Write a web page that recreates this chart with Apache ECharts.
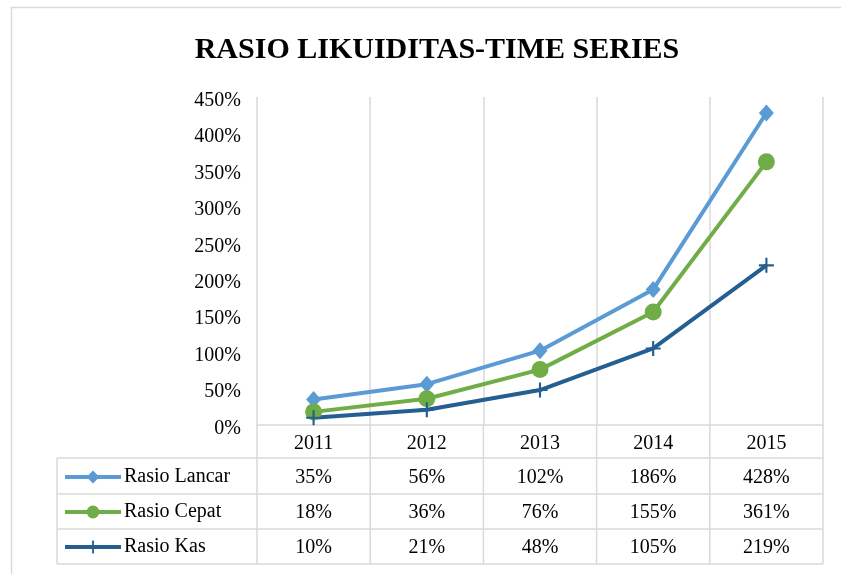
<!DOCTYPE html>
<html>
<head>
<meta charset="utf-8">
<script src="https://cdn.jsdelivr.net/npm/echarts@6/dist/echarts.min.js"></script>
<style>
  html, body { margin: 0; padding: 0; background: #fff; }
  #main { width: 841px; height: 574px; }
</style>
</head>
<body>
<div id="main"></div>
<script>
const years = ["2011", "2012", "2013", "2014", "2015"];
const seriesNames = ["Rasio Lancar", "Rasio Cepat", "Rasio Kas"];
const rasioLancar = [35, 56, 102, 186, 428];
const rasioCepat = [18, 36, 76, 155, 361];
const rasioKas = [10, 21, 48, 105, 219];

const serif = "'Times New Roman', 'Liberation Serif', serif";
const gridColor = "#d9d9d9";
const plusPath = "path://M6,0H8V6H14V8H8V14H6V8H0V6H6Z";

const chart = echarts.init(document.getElementById("main"));

const option = {
  animation: false,
  color: ["#5B9BD5", "#70AD47", "#255E91"],
  title: {
    text: "RASIO LIKUIDITAS-TIME SERIES",
    left: 432,
    top: 30,
    textAlign: "center",
    textStyle: {
      fontFamily: serif,
      fontWeight: "bold",
      fontSize: 30,
      color: "#000",
    },
  },
  legend: {
    orient: "vertical",
    left: 63,
    top: 467,
    padding: 0,
    itemWidth: 56,
    itemHeight: 16,
    itemGap: 15,
    lineStyle: { width: 4 },
    textStyle: {
      fontFamily: serif,
      fontSize: 20,
      lineHeight: 20,
      color: "#000",
      padding: [0, 0, 0, -2],
    },
    data: seriesNames,
  },
  grid: {
    left: 257,
    right: 18,
    top: 97,
    bottom: 149,
  },
  xAxis: {
    type: "category",
    data: years,
    boundaryGap: true,
    axisLine: { lineStyle: { color: gridColor, width: 1.5 } },
    axisTick: { show: false },
    splitLine: { show: true, lineStyle: { color: gridColor, width: 1.5 } },
    axisLabel: {
      fontFamily: serif,
      fontSize: 20,
      color: "#000",
      margin: 9,
    },
  },
  yAxis: {
    type: "value",
    min: 0,
    max: 450,
    interval: 50,
    axisLine: { show: false },
    axisTick: { show: false },
    splitLine: { show: false },
    axisLabel: {
      margin: 16,
      formatter: "{t|{value}%}",
      rich: {
        t: {
          fontFamily: serif,
          fontSize: 20,
          color: "#000",
          padding: [7, 0, 0, 0],
        },
      },
    },
  },
  series: [
    {
      name: seriesNames[0],
      type: "line",
      data: rasioLancar,
      symbol: "diamond",
      symbolSize: [15, 17],
      lineStyle: { width: 4 },
    },
    {
      name: seriesNames[1],
      type: "line",
      data: rasioCepat,
      symbol: "circle",
      symbolSize: 17,
      lineStyle: { width: 4 },
    },
    {
      name: seriesNames[2],
      type: "line",
      data: rasioKas,
      symbol: plusPath,
      symbolSize: 15,
      lineStyle: { width: 4 },
    },
  ],
};

chart.setOption(option);

// data table under the plot
const tableLeft = 57;
const plotLeft = 257;
const plotRight = 823;
const axisY = 425;
const rowLines = [458, 494, 529, 564];
const rows = [rasioLancar, rasioCepat, rasioKas];
const line = (x1, y1, x2, y2) => ({
  type: "line",
  silent: true,
  shape: { x1, y1, x2, y2 },
  style: { stroke: gridColor, lineWidth: 1.5 },
});

const graphic = [];
// outer chart border
graphic.push({
  type: "rect",
  silent: true,
  shape: { x: 11.5, y: 7.5, width: 850, height: 600 },
  style: { fill: null, stroke: gridColor, lineWidth: 1.5 },
});
rowLines.forEach((y) => graphic.push(line(tableLeft, y, plotRight, y)));
graphic.push(line(tableLeft, rowLines[0], tableLeft, rowLines[3]));
const colW = (plotRight - plotLeft) / years.length;
for (let i = 0; i <= years.length; i++) {
  const x = plotLeft + i * colW;
  graphic.push(line(x, axisY, x, rowLines[3]));
}
rows.forEach((vals, r) => {
  const cy = (rowLines[r] + rowLines[r + 1]) / 2 + 1.5;
  vals.forEach((v, i) => {
    const cx = chart.convertToPixel({ xAxisIndex: 0 }, i);
    graphic.push({
      type: "text",
      silent: true,
      x: cx,
      y: cy,
      style: {
        text: v + "%",
        fontFamily: serif,
        fontSize: 20,
        fill: "#000",
        align: "center",
        verticalAlign: "middle",
      },
    });
  });
});

chart.setOption({ graphic });
</script>
</body>
</html>
